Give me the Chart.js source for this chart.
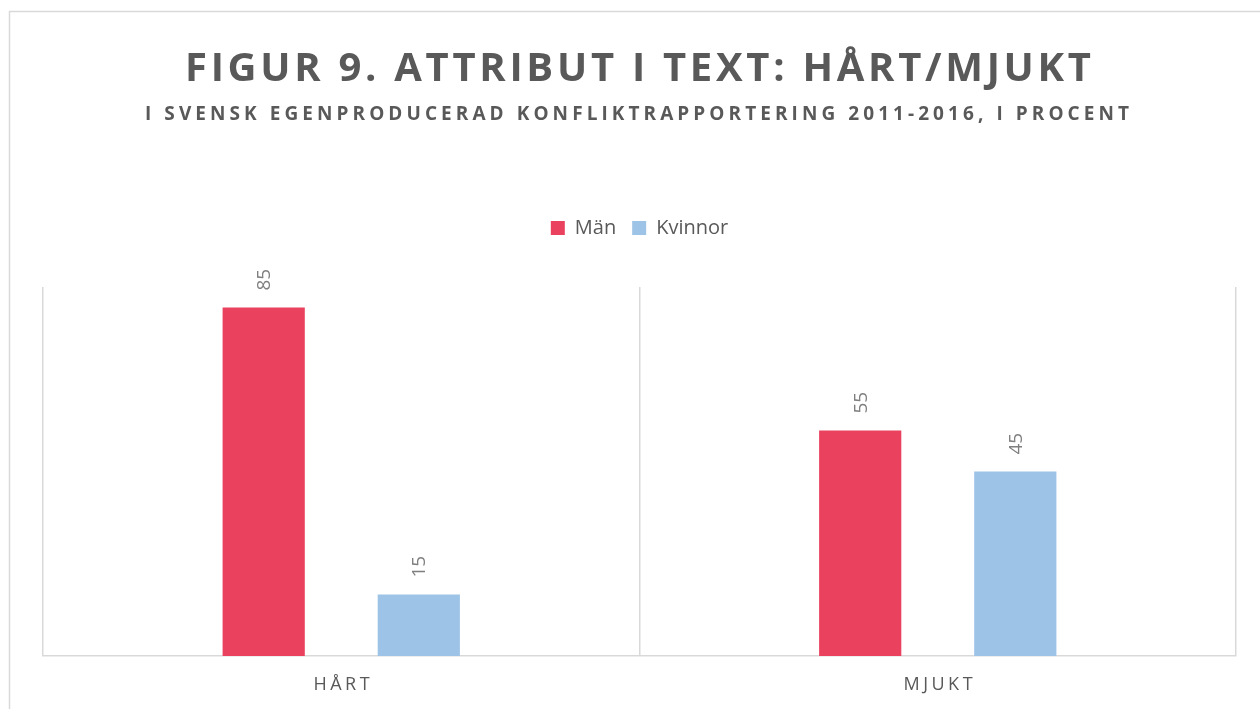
<!DOCTYPE html>
<html>
<head>
<meta charset="utf-8">
<script src="https://cdn.jsdelivr.net/npm/chart.js@4"></script>
<style>
  body { margin: 0; background: #fff; }
  canvas { display: block; }
</style>
</head>
<body>
<canvas id="chart" width="1260" height="709"></canvas>
<script>
// ─── Data ────────────────────────────────────────────────────────────────────
const CATEGORIES = ['HÅRT', 'MJUKT'];
const SERIES_NAMES = ['Män', 'Kvinnor'];
const MAN_VALUES = [85, 55];
const KVINNOR_VALUES = [15, 45];

const TITLE = 'FIGUR 9. ATTRIBUT I TEXT: HÅRT/MJUKT';
const SUBTITLE = 'I SVENSK EGENPRODUCERAD KONFLIKTRAPPORTERING 2011-2016, I PROCENT';

const RED = '#E9415E';
const BLUE = '#9DC3E6';
const TEXT = '#595959';
const GRID = '#D9D9D9';
const FONT = '"Open Sans", "DejaVu Sans", sans-serif';

// draw text stretched to a given width using letter spacing
function spacedText(ctx, str, cx, y, width) {
  ctx.letterSpacing = '0px';
  const w0 = ctx.measureText(str).width;
  const sp = (width - w0) / (str.length - 1);
  ctx.letterSpacing = sp + 'px';
  ctx.textAlign = 'left';
  ctx.fillText(str, cx - width / 2, y);
  ctx.letterSpacing = '0px';
}

// extra room under the legend
const legendGap = {
  id: 'legendGap',
  beforeInit(chart) {
    const fit = chart.legend.fit;
    chart.legend.fit = function () {
      fit.bind(chart.legend)();
      this.height += 39;
    };
  }
};

// ─── Frame, titles, category labels, value labels ────────────────────────────
const decorPlugin = {
  id: 'decor',
  beforeDraw(chart) {
    const ctx = chart.ctx;
    ctx.save();
    ctx.strokeStyle = GRID;
    ctx.lineWidth = 1.5;
    ctx.strokeRect(9.5, 11.5, 1300, 800);

    ctx.fillStyle = TEXT;
    ctx.textBaseline = 'alphabetic';
    ctx.font = 'bold 40px ' + FONT;
    spacedText(ctx, TITLE, 638, 81, 906);
    ctx.font = 'bold 19px ' + FONT;
    spacedText(ctx, SUBTITLE, 637, 120, 984);
    ctx.restore();
  },
  afterDatasetsDraw(chart) {
    const ctx = chart.ctx;
    ctx.save();
    ctx.fillStyle = '#7F7F7F';
    ctx.font = '19px ' + FONT;
    ctx.textAlign = 'left';
    ctx.textBaseline = 'middle';
    chart.data.datasets.forEach((ds, di) => {
      chart.getDatasetMeta(di).data.forEach((bar, i) => {
        ctx.save();
        ctx.translate(bar.x, bar.y - 17);
        ctx.rotate(-Math.PI / 2);
        ctx.fillText(String(ds.data[i]), 0, 1);
        ctx.restore();
      });
    });

    const xs = chart.scales.x;
    ctx.fillStyle = TEXT;
    ctx.font = '18px ' + FONT;
    ctx.textBaseline = 'alphabetic';
    ctx.letterSpacing = '3.5px';
    ctx.textAlign = 'center';
    CATEGORIES.forEach((c, i) => {
      ctx.fillText(c, xs.getPixelForTick(i) + 2, 690);
    });
    ctx.restore();
  }
};

new Chart(document.getElementById('chart'), {
  type: 'bar',
  data: {
    labels: CATEGORIES,
    datasets: [
      { label: SERIES_NAMES[0], data: MAN_VALUES, backgroundColor: RED },
      { label: SERIES_NAMES[1], data: KVINNOR_VALUES, backgroundColor: BLUE },
    ]
  },
  options: {
    responsive: false,
    animation: false,
    devicePixelRatio: 1,
    categoryPercentage: 0.52,
    barPercentage: 0.53,
    layout: { padding: { top: 202, left: 43, right: 24, bottom: 53 } },
    plugins: {
      legend: {
        position: 'top',
        labels: {
          color: TEXT,
          font: { family: FONT, size: 20 },
          boxWidth: 14, boxHeight: 14,
          padding: 16,
        }
      },
      tooltip: { enabled: false },
    },
    scales: {
      x: {
        offset: true,
        grid: { color: GRID, lineWidth: 1.5, offset: true, drawTicks: false },
        border: { color: GRID, width: 1.5 },
        ticks: { display: false },
      },
      y: {
        display: false,
        min: 0, max: 90,
      }
    }
  },
  plugins: [legendGap, decorPlugin]
});
</script>
</body>
</html>
